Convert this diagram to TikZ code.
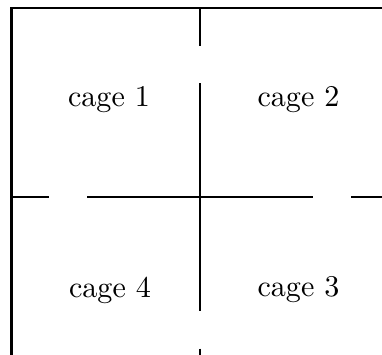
\documentclass[tikz,border=0pt]{standalone}
\begin{document}
\begin{tikzpicture}[x={(0.332pt,0)},y={(0,-0.332pt)},
  wall/.style={line width=0.7pt,line cap=butt},
  lbl/.style={inner sep=0pt,font=\normalsize}]
\useasboundingbox (0,0) rectangle (382,354);
\clip (0,0) rectangle (382,354);
% outer walls
\draw[wall] (382,7.7) -- (11.5,7.7) -- (11.5,360);
% central vertical wall with doors
\draw[wall] (200,7.7) -- (200,45.5);
\draw[wall] (200,83.3) -- (200,310.7);
\draw[wall] (200,348.5) -- (200,360);
% central horizontal wall with doors
\draw[wall] (11.5,197.3) -- (49.3,197.3);
\draw[wall] (87.1,197.3) -- (313.4,197.3);
\draw[wall] (351.2,197.3) -- (390,197.3);
% labels
\node[lbl] (c1) at (109,100) {cage 1};
\node[lbl] (c2) at (298.5,100) {cage 2};
\node[lbl] (c4) at (110,290) {cage 4};
\node[lbl] (c3) at (298.5,290) {cage 3};
\end{tikzpicture}
\end{document}
